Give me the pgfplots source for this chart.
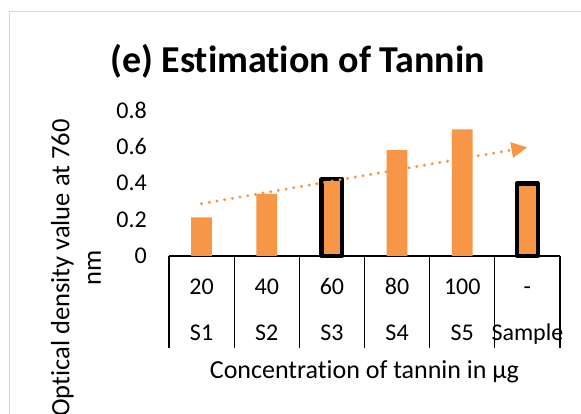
\documentclass[border=0pt]{standalone}
\usepackage{fontspec}
\setmainfont{Carlito}[Ligatures={NoCommon}]
\usepackage{pgfplots}
\pgfplotsset{compat=1.18}
\usetikzlibrary{arrows.meta}
\definecolor{barorange}{RGB}{247,150,70}
\definecolor{framegray}{RGB}{217,217,217}
\begin{document}
\begin{tikzpicture}
\useasboundingbox (0,0) rectangle (581pt,414pt);
\clip (0,0) rectangle (581pt,414pt);
\fill[white] (0,0) rectangle (581pt,414pt);
\draw[framegray, line width=1pt] (9.5pt,-2pt) -- (9.5pt,402.5pt) -- (583pt,402.5pt);
\node[font=\fontsize{38}{46}\selectfont\bfseries, anchor=base, inner sep=0pt] at (297.5pt,341.3pt) {(e) Estimation of Tannin};
\node[rotate=90, align=center, font=\fontsize{26.5}{31.5}\selectfont, inner sep=0pt, anchor=center] at (76pt,146pt) {Optical density value at 760\\nm};
\begin{axis}[
  at={(169pt,158pt)}, anchor=south west,
  width=391pt, height=146pt, scale only axis,
  xmin=-0.5, xmax=5.5, ymin=0, ymax=0.8,
  axis x line=bottom, axis y line=left,
  x axis line style={-, black, line width=1.3pt},
  y axis line style={draw=none},
  xtick={0,1,2,3,4,5},
  xticklabels={20,40,60,80,100,-},
  extra x ticks={0,1,2,3,4,5},
  extra x tick labels={S1,S2,S3,S4,S5,Sample},
  extra x tick style={xticklabel style={yshift=-46.7pt}},
  ytick={0,0.2,0.4,0.6,0.8},
  yticklabels={0,0.2,0.4,0.6,0.8},
  major tick length=0pt,
  tick style={draw=none},
  xticklabel style={anchor=base, inner sep=0pt, yshift=-38.3pt, font=\fontsize{24}{29}\selectfont},
  yticklabel style={anchor=east, inner sep=0pt, xshift=-22pt, font=\fontsize{24}{29}\selectfont},
  xlabel={Concentration of tannin in µg},
  xlabel style={at={(axis description cs:0.5,0)}, anchor=base, inner sep=0pt, yshift=-123pt, font=\fontsize{26}{31}\selectfont},
  clip=false,
]
\addplot[ybar, bar width=20.7pt, bar shift=0pt, fill=barorange, draw=none]
  coordinates {(0,0.212) (1,0.34) (3,0.58) (4,0.694)};
\addplot[ybar, bar width=20.7pt, bar shift=0pt, fill=barorange, draw=black, line width=4.3pt, line join=round]
  coordinates {(2,0.42) (5,0.398)};
\addplot[barorange, line width=3.3pt, line cap=round, dash pattern=on 0pt off 7.8pt, -{Triangle[length=16pt,width=15pt]}]
  coordinates {(0,0.2866) (5,0.5955)};
\draw[black, line width=1.3pt] (axis cs:-0.5,0) -- ++(0pt,-92pt);
\draw[black, line width=1.3pt] (axis cs:0.5,0) -- ++(0pt,-92pt);
\draw[black, line width=1.3pt] (axis cs:1.5,0) -- ++(0pt,-92pt);
\draw[black, line width=1.3pt] (axis cs:2.5,0) -- ++(0pt,-92pt);
\draw[black, line width=1.3pt] (axis cs:3.5,0) -- ++(0pt,-92pt);
\draw[black, line width=1.3pt] (axis cs:4.5,0) -- ++(0pt,-92pt);
\draw[black, line width=1.3pt] (axis cs:5.5,0) -- ++(0pt,-92pt);
\end{axis}
\end{tikzpicture}
\end{document}
